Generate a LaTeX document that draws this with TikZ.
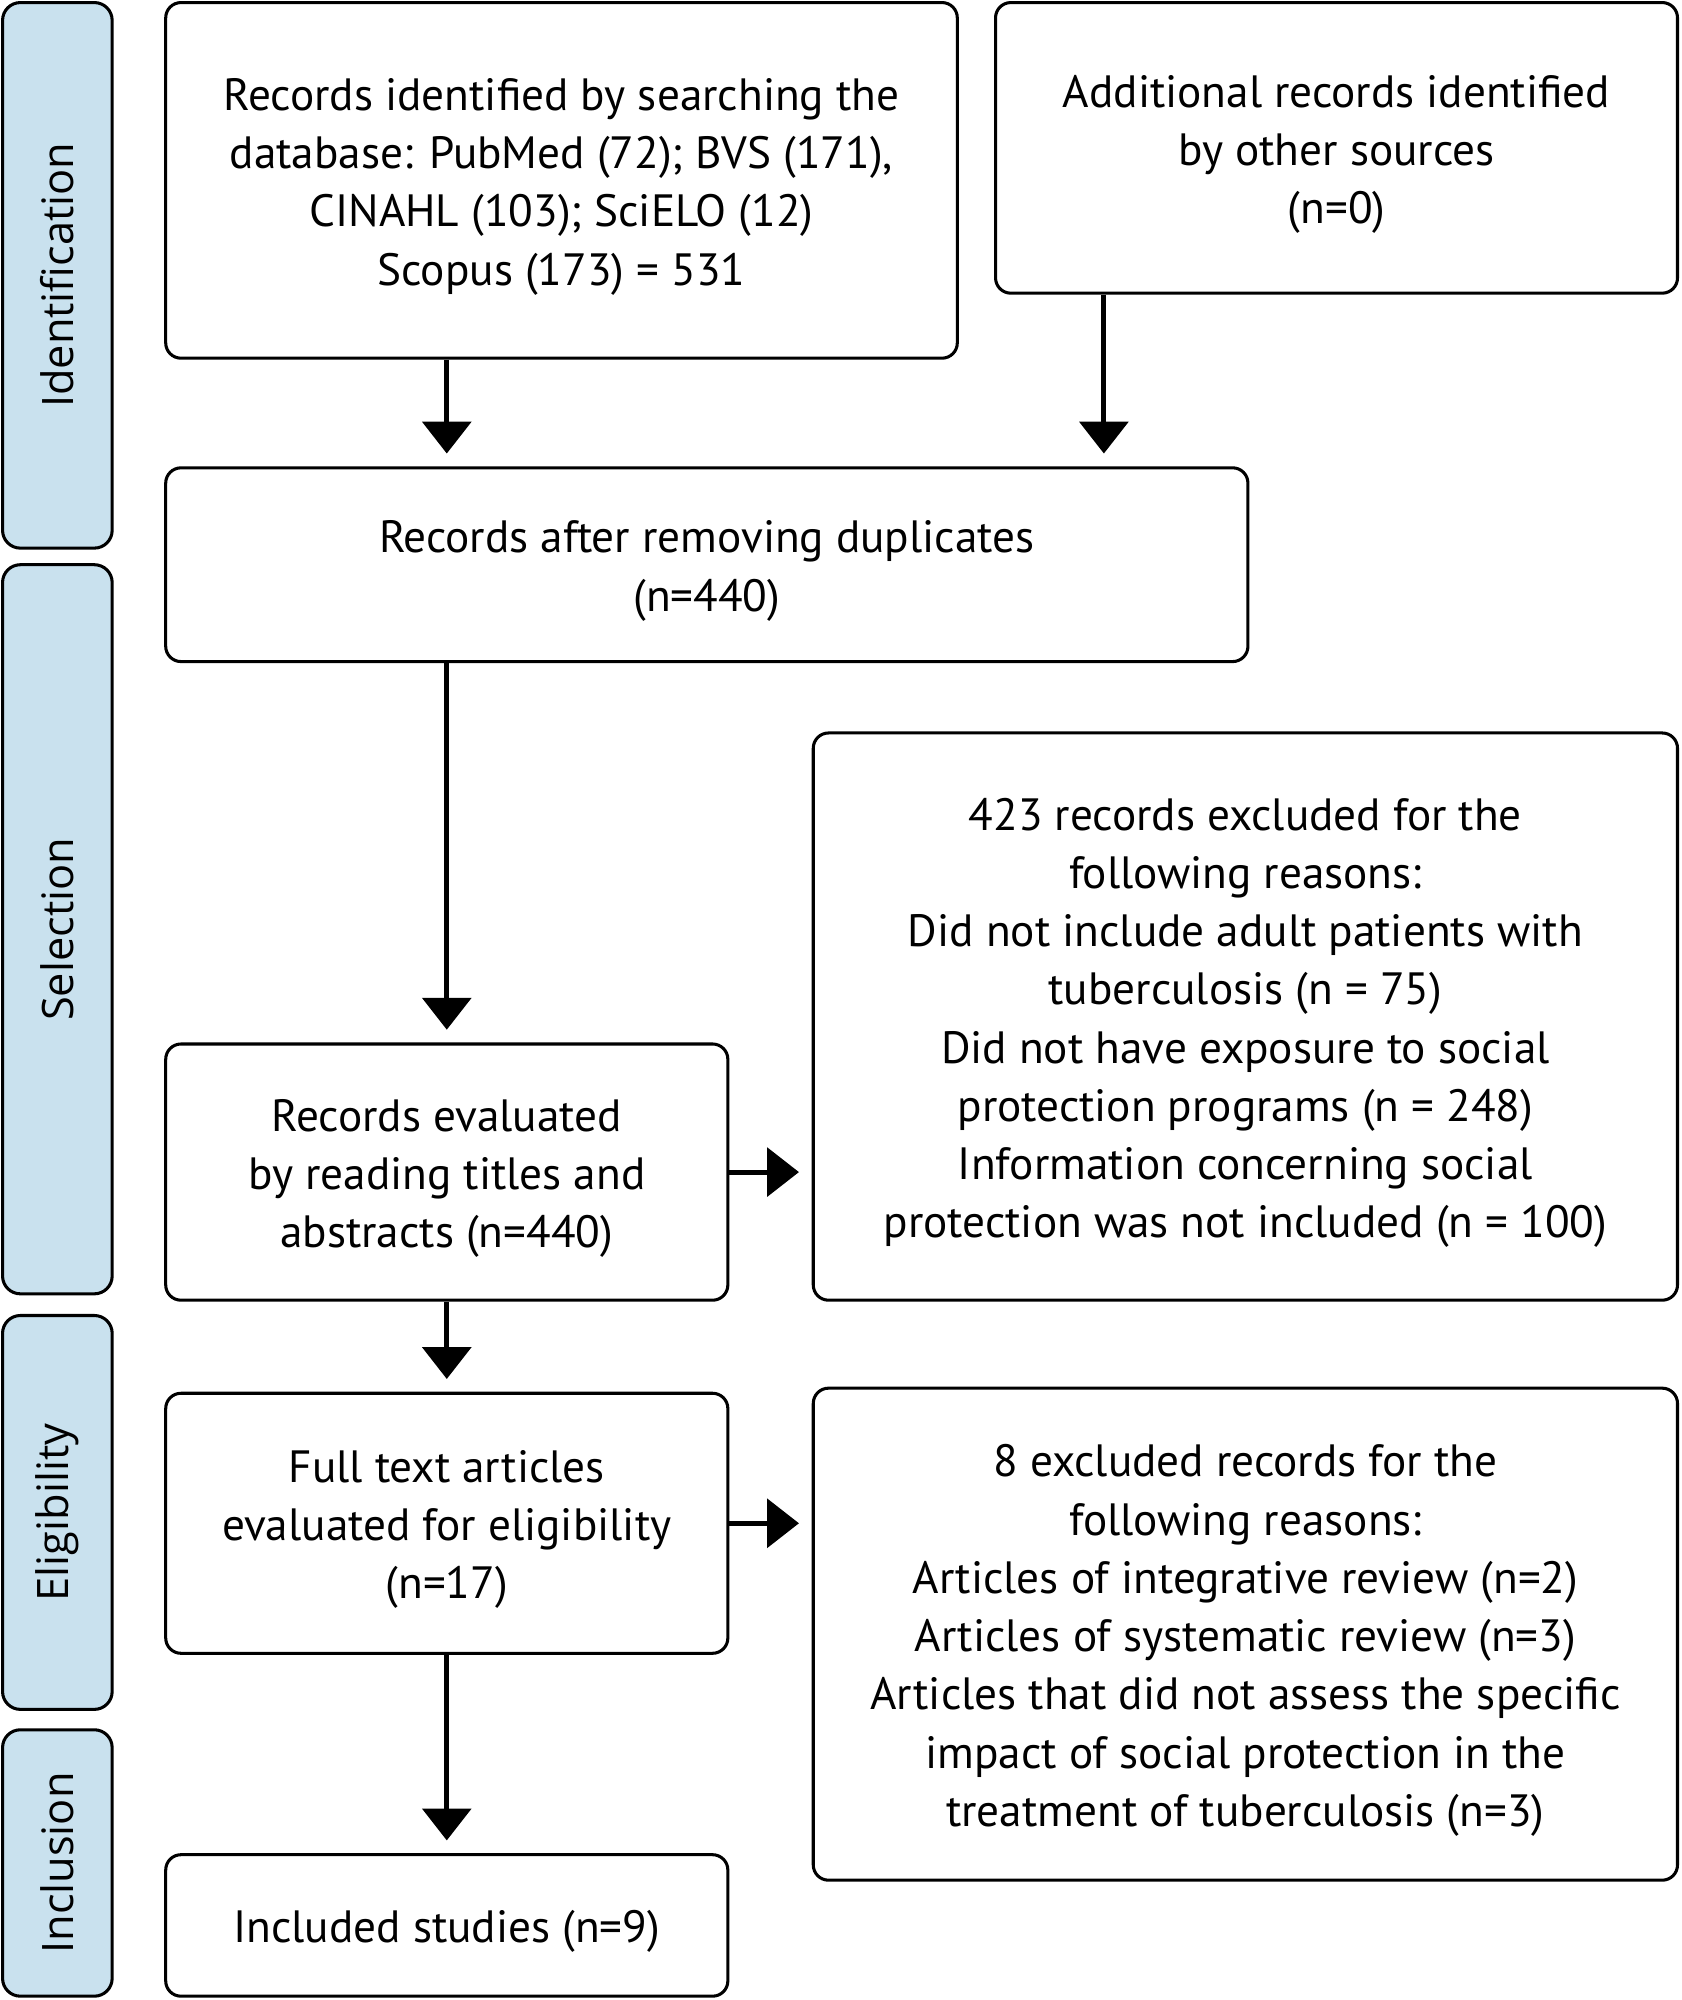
\documentclass[tikz,border=0pt]{standalone}
\usepackage{fontspec}
\setmainfont{PT Sans}
\newfontfamily\tabfont{Open Sans}
\usetikzlibrary{arrows.meta,calc}
\definecolor{tabblue}{HTML}{C9E1EE}
\tikzset{
  box/.style={draw=black,line width=2.4pt,rounded corners=12pt,fill=white,inner sep=0pt},
  txt/.style={align=center,inner sep=0pt,yshift=-5pt,font=\fontsize{35.5}{45.7}\selectfont},
  tabbox/.style={draw=black,line width=2.4pt,rounded corners=14pt,fill=tabblue,inner sep=0pt},
  tablabel/.style={rotate=90,font=\tabfont\fontsize{34}{40}\selectfont,inner sep=0pt},
  arr/.style={line width=4pt,-{Triangle[width=38pt,length=25pt]},shorten >=10pt}
}
\begin{document}
\begin{tikzpicture}[x=1pt,y=-1pt]
\useasboundingbox (0,0) rectangle (1319,1569);
% tabs
\node[tabbox,minimum width=86pt,minimum height=428pt] (t1) at (45,216) {};
\node[tabbox,minimum width=86pt,minimum height=572pt] (t2) at (45,729) {};
\node[tabbox,minimum width=86pt,minimum height=309pt] (t3) at (45,1186.5) {};
\node[tabbox,minimum width=86pt,minimum height=209pt] (t4) at (45,1461.5) {};
\node[tablabel] (l1) at (t1.center) {Identification};
\node[tablabel] (l2) at (t2.center) {Selection};
\node[tablabel] (l3) at (t3.center) {Eligibility};
\node[tablabel] (l4) at (t4.center) {Inclusion};
% boxes
\node[box,minimum width=621pt,minimum height=279pt] (b1) at (440.5,141.5) {};
\node[txt] (b1t) at (b1.center)
  {Records identified by searching the\\database: PubMed (72); BVS (171),\\CINAHL (103); SciELO (12)\\Scopus (173) = 531};
\node[box,minimum width=535pt,minimum height=228pt] (b2) at (1048.5,116) {};
\node[txt] (b2t) at (b2.center)
  {Additional records identified\\by other sources\\(n=0)};
\node[box,minimum width=849pt,minimum height=152pt] (b3) at (554.5,443) {};
\node[txt] (b3t) at (b3.center)
  {Records after removing duplicates\\(n=440)};
\node[box,minimum width=441pt,minimum height=201pt] (b4) at (350.5,919.5) {};
\node[txt] (b4t) at (b4.center)
  {Records evaluated\\by reading titles and\\abstracts (n=440)};
\node[box,minimum width=678pt,minimum height=445pt] (b5) at (977,797.5) {};
\node[txt] (b5t) at (b5.center)
  {423 records excluded for the\\following reasons:\\Did not include adult patients with\\tuberculosis (n = 75)\\Did not have exposure to social\\protection programs (n = 248)\\Information concerning social\\protection was not included (n = 100)};
\node[box,minimum width=441pt,minimum height=204pt] (b6) at (350.5,1195) {};
\node[txt] (b6t) at (b6.center)
  {Full text articles\\evaluated for eligibility\\(n=17)};
\node[box,minimum width=678pt,minimum height=386pt] (b7) at (977,1282) {};
\node[txt] (b7t) at (b7.center)
  {8 excluded records for the\\following reasons:\\Articles of integrative review (n=2)\\Articles of systematic review (n=3)\\Articles that did not assess the specific\\impact of social protection in the\\treatment of tuberculosis (n=3)};
\node[box,minimum width=441pt,minimum height=111pt] (b8) at (350.5,1510.5) {};
\node[txt] (b8t) at (b8.center) {Included studies (n=9)};
% connectors
\coordinate (c2) at (866,0);
\draw[arr] (b1.south -| b4.north) -- (b3.north -| b4.north);
\draw[arr] (b2.south -| c2) -- (b3.north -| c2);
\draw[arr] (b3.south -| b4.north) -- (b4.north);
\draw[arr] (b4.east) -- (b5.west |- b4.east);
\draw[arr] (b4.south) -- (b6.north);
\draw[arr] (b6.east) -- (b7.west |- b6.east);
\draw[arr] (b6.south) -- (b8.north);
\end{tikzpicture}
\end{document}
